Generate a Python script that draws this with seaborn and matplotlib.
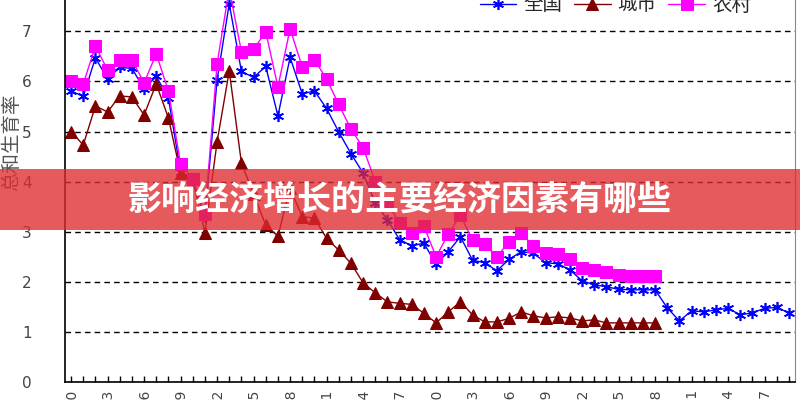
import matplotlib
matplotlib.use('Agg')
import matplotlib.pyplot as plt
import seaborn as sns
import pandas as pd
from matplotlib.patches import Rectangle
from matplotlib.ticker import MultipleLocator

# data (total fertility rate)
years = list(range(1950, 2010))
years_split = list(range(1950, 1999))

national = [5.81, 5.70, 6.47, 6.05, 6.28, 6.26, 5.85, 6.10, 5.67, 4.20,
            4.02, 3.29, 6.03, 7.55, 6.20, 6.08, 6.30, 5.31, 6.48, 5.75,
            5.81, 5.46, 4.99, 4.56, 4.17, 3.57, 3.24, 2.84, 2.72, 2.77,
            2.35, 2.60, 2.90, 2.43, 2.38, 2.22, 2.45, 2.60, 2.57, 2.38,
            2.36, 2.24, 2.02, 1.94, 1.90, 1.85, 1.84, 1.84, 1.84, 1.48,
            1.22, 1.42, 1.40, 1.44, 1.47, 1.34, 1.38, 1.47, 1.49, 1.38]

urban = [5.00, 4.73, 5.51, 5.39, 5.71, 5.69, 5.33, 5.95, 5.27, 4.17,
         4.06, 2.98, 4.79, 6.21, 4.37, 3.75, 3.13, 2.91, 3.87, 3.30,
         3.27, 2.87, 2.63, 2.37, 1.98, 1.78, 1.60, 1.57, 1.55, 1.37,
         1.18, 1.40, 1.60, 1.34, 1.20, 1.20, 1.27, 1.40, 1.32, 1.28,
         1.30, 1.28, 1.22, 1.24, 1.18, 1.18, 1.18, 1.18, 1.18]

rural = [6.00, 5.95, 6.70, 6.23, 6.43, 6.43, 5.97, 6.55, 5.81, 4.35,
         4.05, 3.35, 6.35, 7.85, 6.59, 6.64, 6.99, 5.89, 7.05, 6.29,
         6.43, 6.05, 5.54, 5.05, 4.68, 4.00, 3.58, 3.17, 2.97, 3.11,
         2.50, 2.95, 3.33, 2.83, 2.75, 2.50, 2.80, 2.97, 2.71, 2.57,
         2.55, 2.45, 2.28, 2.24, 2.20, 2.14, 2.12, 2.12, 2.12]

series_names = ['全国', '城市', '农村']
label_years = list(range(1950, 2010, 3))
banner_text = '影响经济增长的主要经济因素有哪些'

sns.set_style('white')
plt.rcParams['font.family'] = ['Noto Sans CJK SC', 'DejaVu Sans']

fig = plt.figure(figsize=(8, 4), dpi=100)
ax = fig.add_axes([65 / 800, 0.045, 730 / 800, 1.002])

sns.lineplot(x=years, y=national, ax=ax, color='#0000FF', lw=1,
             marker=(6, 2, 0), markersize=8, markeredgewidth=1.2,
             markeredgecolor='#0000FF', label=series_names[0])
sns.lineplot(x=years_split, y=urban, ax=ax, color='#800000', lw=1,
             marker='^', markersize=8, markeredgecolor='#800000',
             label=series_names[1])
sns.lineplot(x=years_split, y=rural, ax=ax, color='#FF00FF', lw=1,
             marker='s', markersize=8, markeredgecolor='#FF00FF',
             label=series_names[2])

ax.set_xlim(1949.5, 2009.5)
ax.set_ylim(0, 8)
ax.set_yticks(range(0, 9))
ax.set_yticklabels([str(v) for v in range(0, 9)], color='#444444', fontsize=11,
                   family=['DejaVu Sans'])
ax.tick_params(axis='y', length=0, pad=24)

ax.set_xticks(label_years)
ax.set_xticklabels([str(y) for y in label_years], rotation=90, fontsize=10,
                   color='#444444', family=['DejaVu Sans'])
ax.xaxis.set_minor_locator(MultipleLocator(1))
ax.tick_params(axis='x', which='both', direction='in', length=4, width=1,
               color='black', pad=5, bottom=True)

ax.yaxis.grid(True, linestyle=(0, (4, 3)), color='black', lw=1)
ax.set_axisbelow(True)
for side in ['left', 'bottom']:
    ax.spines[side].set_color('black')
    ax.spines[side].set_linewidth(1.2)
ax.spines['right'].set_color('#888888')
ax.spines['top'].set_visible(False)

ax.legend(loc='center left', bbox_to_anchor=(462 / 800, 395 / 400),
          bbox_transform=fig.transFigure, ncol=3, frameon=False, fontsize=14,
          handlelength=1.9, handletextpad=0.35, columnspacing=0.6)

fig.text(12 / 800, 1 - 142 / 400, '总和生育率', rotation=90, ha='center',
         va='center', fontsize=14, color='#555555')

# red translucent banner across the middle
fig.patches.append(Rectangle((0, 1 - 230 / 400), 1, 61 / 400,
                             transform=fig.transFigure, facecolor='#E02A30',
                             alpha=0.78, edgecolor='none', zorder=10))
fig.text(0.5, 1 - 199 / 400, banner_text, ha='center', va='center',
         fontsize=24.5, fontweight='bold', color='white', zorder=11)

fig.savefig('out.png', dpi=100)
